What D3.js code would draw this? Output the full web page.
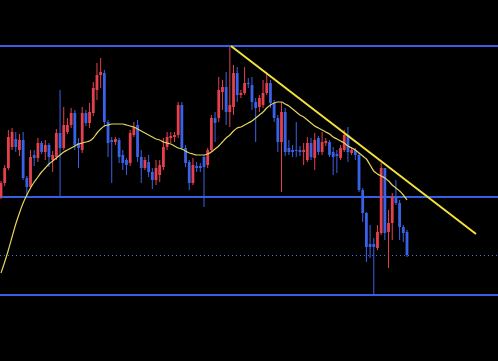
<!DOCTYPE html>
<html><head><meta charset="utf-8">
<script src="https://cdn.jsdelivr.net/npm/d3@7"></script>
<style>html,body{margin:0;padding:0;background:#000;overflow:hidden}</style>
</head><body><svg id="c" width="498" height="361"></svg>
<script>
// OHLC per bar (price units)
const opens  = [203,217,232,253,261,250,260,222,213,245,242,257,248,255,240,243,267,252,268,275,287,257,250,287,277,287,310,325,327,278,260,258,260,245,240,237,265,275,243,232,238,228,220,225,233,253,262,263,265,295,252,238,217,234,234,243,235,250,282,282,308,313,288,293,327,305,307,317,315,298,293,295,307,317,297,282,258,288,252,250,250,250,248,240,257,242,262,248,257,258,248,246,242,250,265,247,250,245,210,187,156,156,152,167,232,168,177,203,197,173,168];
const highs  = [219,235,270,272,268,266,268,224,250,250,262,259,260,257,249,271,310,293,282,292,290,262,293,290,297,318,337,342,330,280,263,263,262,250,242,270,278,280,250,243,245,232,240,240,262,268,268,268,298,298,255,240,242,238,237,245,252,285,288,323,320,328,353,335,333,310,333,322,323,302,305,320,327,320,300,285,298,292,260,255,278,254,257,263,262,267,264,268,262,260,253,250,255,270,273,253,252,247,212,188,175,162,175,237,232,190,207,220,200,175,170];
const lows   = [201,214,230,250,248,244,220,204,211,234,238,246,240,233,228,240,203,250,266,272,250,232,247,274,272,284,300,312,273,243,217,255,237,230,225,234,263,238,217,230,223,211,215,218,230,250,257,258,262,250,233,210,215,228,228,193,232,248,258,278,290,275,273,285,298,302,305,312,290,258,288,292,305,292,278,248,208,244,245,243,243,244,235,238,240,230,245,245,254,243,225,227,240,248,238,245,240,208,178,138,142,105,150,165,160,132,160,195,160,158,143];
const closes = [217,232,263,268,253,260,222,213,243,242,257,248,255,243,245,267,252,275,275,287,255,252,287,277,288,312,325,328,278,257,258,261,243,237,235,267,273,243,232,240,228,220,232,235,253,263,264,265,295,252,237,217,235,232,232,233,250,282,277,310,313,288,295,327,305,307,317,316,298,292,302,307,317,297,282,258,288,248,248,248,249,248,250,257,243,260,248,258,259,245,243,244,252,265,248,250,245,210,187,153,153,153,168,232,167,177,203,197,173,167,145];
// moving average per bar
const maValues = [127,138,150,163,176,187,197,205,212,218,223,228,232,236,239,242,245,248,250,252,254,256,257,258,259,262,267,271,274,275,276,276,276,276,275,274,273,271,269,267,265,263,261,260,258,257,256,254,252,251,249,247,246,245,245,245,246,248,251,254,258,262,265,269,272,273,275,277,279,282,285,288,292,295,297,298,298,296,294,291,288,285,283,280,277,274,272,270,268,266,263,261,259,257,254,252,250,247,244,241,235,229,226,224,222,219,215,212,209,205,200];
// horizontal price levels
const levels = [354, 203, 105];
// trend line endpoints [bar index, price]
const trendIdx = [62.3, 128.7];
const trendPrice = [354, 166];

const svg = d3.select('#c');
const W = 498, H = 361;
svg.append('rect').attr('width', W).attr('height', H).attr('fill', '#000');

const n = closes.length;
const x = d3.scaleLinear().domain([0, n - 1]).range([1, 407]);
const y = d3.scaleLinear().domain([39, 400]).range([H, 0]);

const RED = '#e5404e', BLUE = '#3a62e6', LINE = '#3b5de2';

// level lines
svg.selectAll('line.level').data(levels).enter().append('line')
  .attr('class', 'level')
  .attr('x1', 0).attr('x2', W)
  .attr('y1', d => Math.round(y(d))).attr('y2', d => Math.round(y(d)))
  .attr('stroke', LINE).attr('stroke-width', 2);

// last price dotted line
const last = closes[n - 1];
svg.append('line')
  .attr('x1', 0).attr('x2', W)
  .attr('y1', Math.round(y(last)) + 0.5).attr('y2', Math.round(y(last)) + 0.5)
  .attr('stroke', '#4f70ee').attr('stroke-width', 1).attr('stroke-dasharray', '1,3');

const bars = d3.range(n).map(i => ({i, o: opens[i], h: highs[i], l: lows[i], c: closes[i]}));
const g = svg.append('g');
g.selectAll('line.wick').data(bars).enter().append('line')
  .attr('x1', d => x(d.i)).attr('x2', d => x(d.i))
  .attr('y1', d => y(d.h)).attr('y2', d => y(d.l))
  .attr('stroke', d => d.c >= d.o ? RED : BLUE).attr('stroke-width', 1);
g.selectAll('rect.body').data(bars).enter().append('rect')
  .attr('x', d => x(d.i) - 1.4).attr('width', 2.8)
  .attr('y', d => y(Math.max(d.o, d.c)))
  .attr('height', d => Math.max(1, Math.abs(y(d.o) - y(d.c))))
  .attr('fill', d => d.c >= d.o ? RED : BLUE);

// moving average
svg.append('path').datum(maValues)
  .attr('d', d3.line().x((d, i) => x(i)).y(d => y(d)).curve(d3.curveMonotoneX))
  .attr('fill', 'none').attr('stroke', '#e2d45c').attr('stroke-width', 1.2);

// trend line
svg.append('line')
  .attr('x1', x(trendIdx[0])).attr('y1', y(trendPrice[0]))
  .attr('x2', x(trendIdx[1])).attr('y2', y(trendPrice[1]))
  .attr('stroke', '#f4e23c').attr('stroke-width', 2);
</script></body></html>
